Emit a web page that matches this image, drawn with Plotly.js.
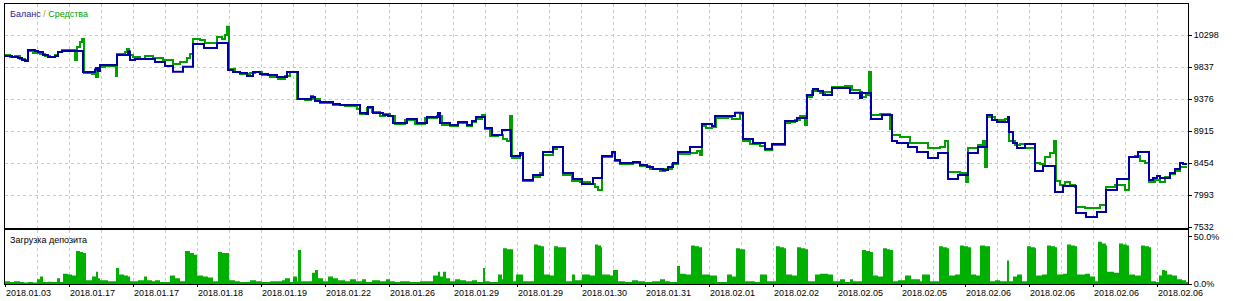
<!DOCTYPE html>
<html>
<head>
<meta charset="utf-8">
<script src="https://cdn.plot.ly/plotly-3.0.1.min.js"></script>
<style>html,body{margin:0;padding:0;background:#fff;}#chart{width:1233px;height:301px;}</style>
</head>
<body>
<div id="chart"></div>
<script>
// x = sequential sample number along the test (chart is index based, not time based)
const balance = [
[5,9995],[12,9981],[18,9966],[22,9938],[25,9924],[28,10082],[35,10068],[38,10053],[43,10010],[48,9981],[55,9995],[58,10053],[62,10068],
[83,9765],[95,9800],[96,9823],[98,9780],[100,9866],[117,10010],[128,10060],[130,9938],[135,9952],[155,9909],[165,9851],[173,9769],[183,9841],
[193,10168],[204,10111],[217,10183],[228,9794],[233,9765],[240,9750],[247,9707],[253,9765],[260,9736],[268,9722],[277,9693],[287,9765],
[298,9376],[311,9405],[315,9347],[320,9333],[333,9304],[340,9290],[360,9174],[366,9160],[368,9261],[373,9174],[383,9146],[388,9131],
[393,9030],[407,9088],[417,9030],[427,9117],[438,9174],[440,9030],[450,9001],[458,9045],[467,9001],[472,9060],[476,9117],
[485,8958],[492,8857],[502,8929],[511,8555],[520,8598],[523,8209],[533,8281],[543,8612],[553,8684],[563,8310],[573,8223],[582,8151],[593,8238],
[602,8555],[612,8612],[615,8497],[620,8454],[633,8468],[640,8425],[647,8396],[653,8368],[663,8353],[668,8396],[673,8454],
[678,8612],[690,8684],[702,9016],[712,8987],[715,9131],[735,9179],[743,8800],[753,8742],[765,8656],[772,8728],[785,9059],[797,9102],
[807,9434],[813,9520],[818,9491],[823,9434],[832,9534],[850,9462],[860,9390],[862,9462],[871,9088],[882,9146],
[892,8771],[897,8742],[908,8684],[917,8612],[928,8526],[938,8598],[948,8223],[958,8281],[968,8598],[978,8684],
[987,9146],[992,9074],[997,9045],[1008,9117],[1009,8901],[1013,8742],[1017,8670],[1025,8728],[1035,8339],[1043,8411],
[1055,8036],[1063,8123],[1076,7734],[1086,7676],[1097,7748],[1106,8065],[1117,8223],[1129,8540],[1138,8612],
[1149,8209],[1153,8238],[1157,8267],[1160,8238],[1170,8310],[1175,8368],[1180,8454],[1183,8440],[1186,8425]
];
const equity = [
[5,10010],[10,9981],[15,9995],[20,9952],[25,9938],[28,10068],[33,10039],[38,10053],[40,10025],[45,9995],[50,9981],[55,10010],[58,10053],[62,10082],
[72,10082],[75,9938],[77,10125],[80,10197],[82,10240],[84,9751],[92,9736],[95,9779],[96,9693],[98,9794],[100,9837],[105,9851],
[116,9707],[117,10025],[125,10053],[127,10097],[129,10010],[133,9981],[140,9952],[145,9995],[153,9966],[163,9937],[173,9880],[180,9909],[187,9966],[190,10025],
[193,10240],[200,10226],[205,10183],[217,10269],[222,10240],[225,10300],[227,10417],[229,9808],[235,9765],[240,9736],[250,9751],[255,9765],[262,9722],[270,9693],[278,9664],[285,9707],[290,9765],
[297,9376],[305,9361],[311,9420],[313,9376],[320,9318],[333,9290],[345,9275],[357,9232],[360,9160],[367,9246],[372,9189],[380,9131],[385,9160],[390,9131],
[395,9016],[405,9074],[415,9016],[425,9103],[437,9131],[442,9001],[450,8987],[458,9030],[467,8987],[472,9045],[476,9088],[482,9146],
[485,8944],[490,8843],[498,8857],[503,8800],[507,8771],[510,9131],[512,8526],[520,8569],[523,8194],[533,8252],[540,8310],[543,8569],[553,8655],[557,8684],
[563,8281],[572,8194],[580,8180],[590,8151],[595,8108],[598,8065],[602,8540],[612,8598],[615,8483],[620,8440],[633,8454],[640,8411],[650,8368],[660,8339],[665,8368],[672,8440],
[678,8583],[690,8598],[697,8626],[700,8569],[702,8987],[706,8958],[712,8972],[716,9103],[728,9117],[732,9088],[740,9160],
[743,8771],[750,8728],[760,8698],[765,8641],[772,8713],[785,9030],[790,9045],[795,9074],[800,9131],[805,9001],
[807,9405],[812,9491],[820,9462],[825,9477],[832,9549],[845,9563],[852,9506],[860,9477],[862,9405],[866,9434],[869,9765],[871,9146],[880,9160],[890,8944],
[892,8857],[900,8829],[910,8742],[928,8670],[940,8684],[945,8771],[948,8324],[960,8310],[966,8180],[968,8670],[978,8713],[983,8771],[985,8396],
[987,9117],[995,9074],[1005,9088],[1009,8771],[1015,8713],[1020,8728],[1025,8670],[1035,8454],[1040,8440],[1045,8540],[1050,8598],[1054,8771],
[1056,8194],[1060,8137],[1065,8180],[1070,8137],[1075,8108],[1076,7820],[1085,7806],[1095,7806],[1100,7849],[1106,8108],[1115,8137],[1125,8065],
[1129,8540],[1135,8555],[1140,8483],[1145,8454],[1149,8180],[1155,8209],[1160,8180],[1165,8252],[1170,8296],[1175,8339],[1180,8396],[1186,8411]
];
const depositLoad = [
[5,3],[10,2],[14,3],[20,2],[24,1.5],[28,2],[33,1.5],[37,5],[40,8],[43,2],[48,2.5],[53,2],[57,6],[60,2],[63,11],[68,10],[72,9],
[76,35],[80,34],[83,33],[86,4],[92,8],[96,13],[98,6],[100,4],[108,3],[116,17],[119,10],[124,9],[128,8],[130,3],[138,4],[144,8],[147,4],
[152,3],[155,4],[160,2],[170,9],[175,6],[180,3],[185,35],[190,33],[194,31],[197,9],[203,8],[208,7],[213,3],[218,34],[222,33],[226,33],
[229,4],[235,3],[240,2],[250,4],[256,3],[262,2],[270,3],[282,4],[285,6],[290,2],[293,8],[297,3],[298,36],[301,3],[312,12],[315,15],[318,6],
[323,3],[328,8],[333,6],[338,4],[345,3],[350,5],[356,3],[362,5],[366,2],[372,4],[380,3],[386,5],[390,3],[395,2],[400,3],[410,2],[420,3],
[433,9],[438,13],[440,8],[443,13],[446,6],[450,3],[455,5],[460,4],[466,3],[472,4],[477,2],[483,17],[485,3],[490,2],[498,10],[502,5],
[503,38],[507,37],[510,37],[513,3],[516,10],[523,3],[534,42],[538,41],[541,40],[544,10],[550,9],[554,40],[558,39],[562,39],[566,3],
[572,10],[575,4],[582,10],[590,9],[595,42],[598,41],[601,39],[602,10],[610,9],[613,15],[618,3],[625,2],[632,4],[638,3],[645,2],[652,3],
[660,5],[665,3],[670,2],[677,19],[680,11],[686,10],[691,41],[695,40],[699,39],[702,10],[710,9],[717,2],[727,10],[732,8],[736,38],[740,37],
[745,3],[755,2],[760,10],[767,3],[776,40],[780,39],[784,38],[786,10],[792,9],[797,39],[801,38],[805,37],[808,3],[815,10],[820,11],[828,10],
[833,3],[840,5],[845,2],[850,5],[853,3],[862,36],[866,35],[870,34],[873,9],[878,8],[883,38],[887,37],[890,36],[893,3],[898,4],[905,9],
[911,5],[920,3],[922,10],[930,3],[939,40],[943,39],[947,38],[949,9],[955,10],[960,41],[964,40],[968,39],[971,10],[976,9],[980,41],[985,40],
[990,3],[995,4],[1000,3],[1007,25],[1009,3],[1013,8],[1017,10],[1022,3],[1027,40],[1031,39],[1035,38],[1036,9],[1042,10],[1047,41],[1051,40],
[1055,39],[1057,10],[1063,11],[1067,42],[1071,41],[1075,40],[1077,10],[1085,11],[1090,8],[1095,3],[1098,45],[1102,43],[1106,41],[1107,13],
[1114,12],[1119,43],[1123,42],[1127,41],[1129,10],[1135,9],[1141,41],[1145,40],[1149,39],[1151,3],[1156,2],[1159,9],[1162,15],[1165,14],
[1167,10],[1172,9],[1177,5],[1182,4],[1186,2],[1188,0]
];
const dateLabels = ["2018.01.03","2018.01.17","2018.01.17","2018.01.18","2018.01.19","2018.01.22","2018.01.26","2018.01.29","2018.01.29",
"2018.01.30","2018.01.31","2018.02.01","2018.02.02","2018.02.05","2018.02.05","2018.02.06","2018.02.06","2018.02.06","2018.02.06"];
const priceTicks = [7532,7993,8454,8915,9376,9837,10298];
const loadTicks = [0,50];
const loadTickText = ["0.0%","50.0%"];

const X0 = 5, X1 = 1188, STEP = 64;
const majorVals = dateLabels.map((_, i) => X0 + i * STEP);
const minorVals = dateLabels.map((_, i) => X0 + i * STEP + STEP / 2);

const gridCol = '#c8c8c8';
const font = {family: 'Liberation Sans, Arial, sans-serif', size: 9, color: '#000'};

const traces = [
  {x: depositLoad.map(p => p[0]), y: depositLoad.map(p => p[1]), type: 'scatter', mode: 'lines',
   line: {shape: 'hv', width: 0, color: '#00b000'}, fill: 'tozeroy', fillcolor: '#00b000',
   xaxis: 'x2', yaxis: 'y2', hoverinfo: 'skip'},
  {x: equity.map(p => p[0]), y: equity.map(p => p[1]), type: 'scatter', mode: 'lines',
   line: {shape: 'hv', width: 2, color: '#00a000'}, xaxis: 'x', yaxis: 'y', name: 'Средства'},
  {x: balance.map(p => p[0]), y: balance.map(p => p[1]), type: 'scatter', mode: 'lines',
   line: {shape: 'hv', width: 2, color: '#0000a8'}, xaxis: 'x', yaxis: 'y', name: 'Баланс'}
];

const xCommon = {
  range: [X0, X1], showline: true, mirror: true, linecolor: '#000', linewidth: 1,
  tickmode: 'array', tickvals: majorVals, showgrid: true, gridcolor: gridCol, griddash: '3px,3px', gridwidth: 1,
  minor: {tickmode: 'array', tickvals: minorVals, showgrid: true, gridcolor: gridCol, griddash: '3px,3px', gridwidth: 1, ticks: ''},
  zeroline: false, fixedrange: true
};

const layout = {
  width: 1233, height: 301,
  margin: {l: 5, r: 45, t: 4, b: 17, pad: 0},
  paper_bgcolor: '#fff', plot_bgcolor: '#fff',
  showlegend: false, font: font,
  xaxis: Object.assign({}, xCommon, {anchor: 'y', showticklabels: false, ticks: '', domain: [0, 1]}),
  xaxis2: Object.assign({}, xCommon, {anchor: 'y2', showticklabels: true, ticks: 'outside', ticklen: 2, tickcolor: '#000',
    ticktext: dateLabels, ticklabelposition: 'outside right', tickfont: font, domain: [0, 1]}),
  yaxis: {domain: [0.2, 1], range: [7518, 10745], side: 'right', showline: true, mirror: true, linecolor: '#000', linewidth: 1,
    tickmode: 'array', tickvals: priceTicks, ticktext: priceTicks.map(String), ticks: 'outside', ticklen: 3, tickcolor: '#000',
    showgrid: true, gridcolor: gridCol, griddash: '3px,3px', zeroline: false, tickfont: font, fixedrange: true},
  yaxis2: {domain: [0, 0.193], range: [0, 57.4], side: 'right', showline: true, mirror: true, linecolor: '#000', linewidth: 1,
    tickmode: 'array', tickvals: loadTicks, ticktext: loadTickText, ticks: 'outside', ticklen: 3, tickcolor: '#000',
    showgrid: false, zeroline: false, tickfont: font, fixedrange: true},
  annotations: [
    {xref: 'paper', yref: 'paper', x: 0, y: 1, xanchor: 'left', yanchor: 'top', xshift: 3, yshift: -3, showarrow: false,
     text: '<span style="color:#1a1aa0">Баланс</span> <span style="color:#d09000">/</span> <span style="color:#00a000">Средства</span>',
     font: font},
    {xref: 'paper', yref: 'paper', x: 0, y: 0.193, xanchor: 'left', yanchor: 'top', xshift: 3, yshift: -3, showarrow: false,
     text: 'Загрузка депозита', font: font}
  ]
};

Plotly.newPlot('chart', traces, layout, {staticPlot: true, displayModeBar: false});
</script>
</body>
</html>
